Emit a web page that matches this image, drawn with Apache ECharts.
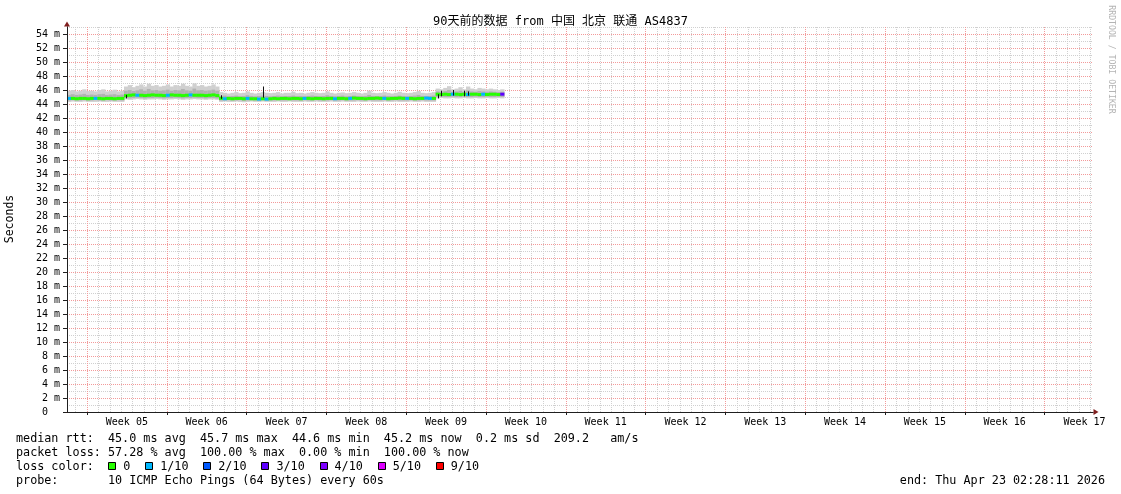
<!DOCTYPE html>
<html><head><meta charset="utf-8">
<script src="https://cdn.jsdelivr.net/npm/echarts@6/dist/echarts.min.js"></script>
<style>html,body{margin:0;padding:0;background:#fff}#c{width:1121px;height:494px}</style>
</head><body><div id="c"></div>
<script>
// ---------- text ----------
const chartTitle = '90天前的数据 from 中国 北京 联通 AS4837';
const yAxisTitle = 'Seconds';
const watermark = 'RRDTOOL / TOBI OETIKER';
const weekLabels = ['Week 05','Week 06','Week 07','Week 08','Week 09','Week 10','Week 11','Week 12','Week 13','Week 14','Week 15','Week 16','Week 17'];
const statLines = [
  'median rtt:  45.0 ms avg  45.7 ms max  44.6 ms min  45.2 ms now  0.2 ms sd  209.2   am/s',
  'packet loss: 57.28 % avg  100.00 % max  0.00 % min  100.00 % now'
];
const lossTitle = 'loss color:';
const lossLegendLabels = ['0','1/10','2/10','3/10','4/10','5/10','9/10'];
const lossLegendColors = ['#26ff00','#00b8ff','#0059ff','#5e00ff','#7e00ff','#dd00ff','#ff0000'];
const probeLine = 'probe:       10 ICMP Echo Pings (64 Bytes) every 60s';
const endLine = 'end: Thu Apr 23 02:28:11 2026';

// ---------- time frame (hours from left edge of plot) ----------
const TOTAL_HOURS = 2160;      // 90 days
const FIRST_WEEK_HOUR = 42;    // Monday 00:00 of Week 05
const STEP_HOURS = 8;          // one sample = 8 hours
const Y_MAX = 55;

// ---------- data (ms), one value per 8h sample ----------
const median = [
  44.80,44.80,44.75,44.80,44.80,44.75,44.80,44.80,44.80,44.75,44.80,44.80,44.75,44.80,44.80,
  45.20,45.25,45.30,45.25,45.25,45.20,45.25,45.30,45.25,45.25, 45.20,45.25,45.30,45.25,45.25,45.20,45.25,45.30,45.25,45.25, 45.25,45.20,45.25,45.30,45.20,
  44.80,44.75,44.80,44.75,44.80,44.80,44.75,44.80,44.75,44.75, 44.70,44.75,44.70,44.75,44.80,44.75,44.80,44.80,44.75,44.80,
  44.80,44.75,44.80,44.80,44.75,44.80,44.80,44.75,44.80,44.80, 44.75,44.80,44.80,44.75,44.80,44.85,44.80,44.80,44.75,44.80,
  44.80,44.85,44.80,44.80,44.75,44.80,44.80,44.85,44.80,44.80, 44.80,44.75,44.80,44.80,44.85,44.80,44.80,
  45.40,45.35,45.40,45.35,45.40,45.40,45.35,45.40,45.35,45.40, 45.40,45.35,45.40,45.35,45.40,45.40,45.35,45.40
];
const loss = [
  1,0,0,0,0,0,0,1,0,0,0,0,0,0,0,
  0,0,0,1,0,0,0,0,0,0, 0,1,0,0,0,0,0,1,0,0, 0,0,0,0,0,
  0,1,0,0,0,0,0,1,0,0, 1,0,1,0,0,0,0,0,0,0, 0,0,1,0,0,0,0,0,0,0, 1,0,0,0,1,0,0,0,0,0, 0,0,0,1,0,0,0,0,0,1, 0,0,0,0,1,1,0,
  0,0,0,0,1,0,0,0,1,0, 0,0,1,0,0,0,0,3
];
const smokeLo = [
  44.30,44.35,44.30,44.30,44.35,44.30,44.30,44.30,44.35,44.30,44.30,44.35,44.30,44.30,44.30,
  44.65,44.60,44.65,44.70,44.65,44.60,44.65,44.65,44.70,44.65, 44.60,44.65,44.65,44.70,44.65,44.60,44.65,44.65,44.70,44.65, 44.65,44.60,44.65,44.65,44.60,
  44.30,44.35,44.30,44.30,44.35,44.30,44.25,44.30,44.35,44.30, 44.30,44.35,44.30,44.30,44.30,44.35,44.30,44.30,44.35,44.30,
  44.30,44.30,44.35,44.30,44.30,44.35,44.30,44.30,44.30,44.35, 44.30,44.30,44.35,44.30,44.30,44.30,44.35,44.30,44.30,44.35,
  44.30,44.30,44.30,44.35,44.30,44.30,44.35,44.30,44.30,44.30, 44.35,44.30,44.30,44.35,44.30,44.30,44.30,
  44.80,44.85,44.80,44.80,44.85,44.80,44.80,44.85,44.80,44.80, 44.85,44.80,44.80,44.85,44.80,44.80,44.85,44.80
];
const smokeHi = [
  45.90,46.00,45.80,45.90,46.10,45.85,45.90,45.80,46.00,46.10,45.80,45.90,46.05,45.80,45.90,
  46.50,46.70,46.40,46.60,46.80,46.50,46.90,46.60,46.70,46.50, 46.60,46.80,46.50,46.70,46.60,46.90,46.60,46.50,46.95,46.60, 46.70,46.50,46.60,46.80,46.50,
  45.70,45.60,45.50,45.60,45.70,45.55,45.60,45.80,45.60,45.50, 45.60,45.70,45.60,45.55,45.60,45.70,45.50,45.60,45.60,45.75,
  45.55,45.60,45.50,45.60,45.70,45.60,45.55,45.60,45.80,45.60, 45.50,45.60,45.65,45.55,45.60,45.70,45.60,45.50,45.60,45.90,
  45.60,45.55,45.60,45.70,45.60,45.50,45.60,45.75,45.60,45.55, 45.60,45.70,45.85,45.60,45.55,45.60,45.70,
  46.20,46.10,46.30,46.55,46.10,46.20,46.40,46.10,46.50,46.20, 46.10,46.30,46.20,46.10,46.20,46.10,46.00,46.10
];
const coreLo = [
  44.50,44.55,44.50,44.50,44.55,44.50,44.50,44.55,44.50,44.50,44.55,44.50,44.50,44.55,44.50,
  44.85,44.80,44.85,44.90,44.85,44.80,44.85,44.85,44.90,44.85, 44.80,44.85,44.85,44.90,44.85,44.80,44.85,44.85,44.90,44.85, 44.85,44.80,44.85,44.85,44.80,
  44.50,44.50,44.55,44.50,44.50,44.55,44.45,44.50,44.55,44.50, 44.50,44.55,44.50,44.50,44.50,44.55,44.50,44.50,44.55,44.50,
  44.50,44.50,44.55,44.50,44.50,44.55,44.50,44.50,44.50,44.55, 44.50,44.50,44.55,44.50,44.50,44.50,44.55,44.50,44.50,44.55,
  44.50,44.50,44.50,44.55,44.50,44.50,44.55,44.50,44.50,44.50, 44.55,44.50,44.50,44.55,44.50,44.50,44.50,
  45.00,45.05,45.00,45.00,45.05,45.00,45.00,45.05,45.00,45.00, 45.05,45.00,45.00,45.05,45.00,45.00,45.05,45.00
];
const coreHi = [
  45.30,45.40,45.30,45.35,45.45,45.30,45.35,45.30,45.40,45.45,45.30,45.35,45.40,45.30,45.35,
  45.90,46.00,45.85,45.95,46.10,45.90,46.15,45.95,46.00,45.90, 45.95,46.05,45.90,46.00,45.95,46.15,45.95,45.90,46.20,45.95, 46.00,45.90,45.95,46.05,45.90,
  45.15,45.20,45.10,45.15,45.20,45.10,45.15,45.25,45.15,45.10, 45.15,45.20,45.15,45.10,45.15,45.20,45.10,45.15,45.15,45.20,
  45.10,45.15,45.10,45.15,45.20,45.15,45.10,45.15,45.25,45.15, 45.10,45.15,45.20,45.10,45.15,45.20,45.15,45.10,45.15,45.30,
  45.15,45.10,45.15,45.20,45.15,45.10,45.15,45.20,45.15,45.10, 45.15,45.20,45.30,45.15,45.10,45.15,45.20,
  45.80,45.75,45.85,46.00,45.75,45.80,45.90,45.75,45.95,45.80, 45.75,45.85,45.80,45.75,45.80,45.75,45.70,45.75
];
// dark marks: [sample, low ms, high ms]
const darkMarks = [[15,44.8,45.3],[40,44.75,45.25],[51,44.9,46.5],[97,44.8,45.4],[98,45.1,45.9],[101,45.2,46.0],[104,45.1,45.9],[105,45.2,45.8]];

// ---------- styles ----------
const MONO = '"DejaVu Sans Mono", "Noto Sans CJK SC", monospace';
const GRID_MINOR = '#d0d0d0';
const GRID_MAJOR = '#f39a9a';
const ARROW = '#801f1f';
const AXIS = '#1f1f1f';
const lossColorMap = {0:'#26ff00',1:'#00b8ff',2:'#0059ff',3:'#5e00ff',4:'#7e00ff',5:'#dd00ff',9:'#ff0000'};
function lossColor(l){ if (l >= 9) return lossColorMap[9]; if (l > 5) return lossColorMap[5]; return lossColorMap[l]; }

const hourCats = Array.from({length: TOTAL_HOURS + 1}, (_, i) => String(i));
const metreCats = Array.from({length: Y_MAX + 1}, (_, i) => String(i));
const isWeek = i => i >= FIRST_WEEK_HOUR && i < TOTAL_HOURS && (i - FIRST_WEEK_HOUR) % 168 === 0;
const isDay = i => i > 0 && i < TOTAL_HOURS && ((i - FIRST_WEEK_HOUR) % 24 + 24) % 24 === 0 && !isWeek(i);
const labelIdx = i => { const o = i - FIRST_WEEK_HOUR - 84; return (o >= 0 && o % 168 === 0) ? o / 168 : -1; };

const gridRect = {left: 67, right: 28, top: 27, bottom: 82, outerBoundsMode: 'none'};

const chart = echarts.init(document.getElementById('c'), null, {renderer: 'canvas'});

function smokeItem(params, api) {
  const i = api.value(0);
  const x0 = api.coord([i * STEP_HOURS, 0])[0];
  const x1 = api.coord([(i + 1) * STEP_HOURS, 0])[0];
  const yLo = api.coord([0, api.value(1)])[1], yHi = api.coord([0, api.value(2)])[1];
  const cLo = api.coord([0, api.value(3)])[1], cHi = api.coord([0, api.value(4)])[1];
  return {type: 'group', children: [
    {type: 'rect', shape: {x: x0, y: yHi, width: x1 - x0 + 0.5, height: yLo - yHi}, style: {fill: '#d0d0d0'}},
    {type: 'rect', shape: {x: x0, y: cHi, width: x1 - x0 + 0.5, height: cLo - cHi}, style: {fill: '#b2b2b2'}}
  ]};
}
function medianItem(params, api) {
  const i = api.value(0);
  const x0 = api.coord([i * STEP_HOURS, 0])[0];
  const x1 = api.coord([(i + 1) * STEP_HOURS, 0])[0];
  const y = api.coord([0, api.value(1)])[1];
  return {type: 'rect', shape: {x: x0, y: y - 1.5, width: x1 - x0 + 0.4, height: 3}, style: {fill: lossColor(api.value(2))}};
}
function darkItem(params, api) {
  const i = api.value(0);
  const x = Math.round(api.coord([(i + 0.5) * STEP_HOURS, 0])[0]) + 0.5;
  const yLo = api.coord([0, api.value(1)])[1], yHi = api.coord([0, api.value(2)])[1];
  return {type: 'line', shape: {x1: x, y1: yLo, x2: x, y2: yHi}, style: {stroke: '#111', lineWidth: 1}};
}

// legend graphics
const graphics = [];
const LEG_FONT = '11.75px ' + MONO;
const CHAR_W = 7.08;
graphics.push({type: 'text', x: 560.5, y: 21.5, style: {text: chartTitle, font: '12px ' + MONO, fill: '#000', align: 'center', verticalAlign: 'middle'}});
graphics.push({type: 'text', x: 10, y: 219, rotation: Math.PI / 2, style: {text: yAxisTitle, font: '11.5px ' + MONO, fill: '#000', align: 'center', verticalAlign: 'middle'}});
graphics.push({type: 'text', x: 1111, y: 59.5, rotation: -Math.PI / 2, style: {text: watermark, font: '8.2px ' + MONO, fill: '#b4b4b4', align: 'center', verticalAlign: 'middle'}});
statLines.forEach((t, k) => graphics.push({type: 'text', x: 16, y: 439 + 14 * k, style: {text: t, font: LEG_FONT, fill: '#000', verticalAlign: 'middle'}}));
graphics.push({type: 'text', x: 16, y: 467, style: {text: lossTitle, font: LEG_FONT, fill: '#000', verticalAlign: 'middle'}});
let lx = 108.3;
lossLegendLabels.forEach((lab, k) => {
  graphics.push({type: 'rect', shape: {x: Math.round(lx) + 0.5, y: 462.5, width: 7, height: 7}, style: {fill: lossLegendColors[k], stroke: '#000', lineWidth: 1}});
  graphics.push({type: 'text', x: lx + 15, y: 467, style: {text: lab, font: LEG_FONT, fill: '#000', verticalAlign: 'middle'}});
  lx += 15 + lab.length * CHAR_W + 14.8;
});
graphics.push({type: 'text', x: 16, y: 481, style: {text: probeLine, font: LEG_FONT, fill: '#000', verticalAlign: 'middle'}});
graphics.push({type: 'text', x: 1105, y: 481, style: {text: endLine, font: LEG_FONT, fill: '#000', align: 'right', verticalAlign: 'middle'}});

const hidden = {axisLine: {show: false}, axisTick: {show: false}, axisLabel: {show: false}, splitLine: {show: false}};

const option = {
  animation: false,
  backgroundColor: '#ffffff',
  grid: [Object.assign({}, gridRect), Object.assign({}, gridRect), Object.assign({}, gridRect), Object.assign({}, gridRect)],
  xAxis: [
    {type: 'category', gridIndex: 0, data: hourCats, boundaryGap: false,
     axisLine: {show: false}, axisTick: {show: false}, axisLabel: {show: false},
     splitLine: {show: true, interval: (i) => isDay(i), lineStyle: {color: GRID_MINOR, width: 1, type: [1, 1]}}},
    {type: 'category', gridIndex: 1, data: hourCats, boundaryGap: false,
     axisLine: {show: false},
     axisTick: {show: true, interval: (i) => isWeek(i), length: 3, lineStyle: {color: AXIS}},
     axisLabel: {show: true, interval: (i) => labelIdx(i) >= 0, hideOverlap: false, margin: 5,
       formatter: (v, i) => { const k = labelIdx(i); return k >= 0 ? weekLabels[k] : ''; },
       fontFamily: MONO, fontSize: 10, color: '#000'},
     splitLine: {show: true, interval: (i) => isWeek(i), lineStyle: {color: GRID_MAJOR, width: 1, type: [1, 1]}}},
    Object.assign({type: 'value', gridIndex: 2, min: 0, max: TOTAL_HOURS, z: 2}, hidden,
      {axisLine: {show: true, lineStyle: {color: AXIS, width: 1}}}),
    Object.assign({type: 'value', gridIndex: 3, min: 0, max: TOTAL_HOURS, z: 1}, hidden,
      {axisLine: {show: true, lineStyle: {color: ARROW, width: 1}, symbol: ['none', 'triangle'], symbolSize: [6, 5], symbolOffset: [0, 3]}})
  ],
  yAxis: [
    {type: 'category', gridIndex: 0, data: metreCats, boundaryGap: false,
     axisLine: {show: false}, axisTick: {show: false}, axisLabel: {show: false},
     splitLine: {show: true, interval: (i) => i % 2 === 1, lineStyle: {color: GRID_MINOR, width: 1, type: [1, 1]}}},
    {type: 'category', gridIndex: 1, data: metreCats, boundaryGap: false,
     axisLine: {show: false},
     axisTick: {show: true, interval: (i) => i % 2 === 0 && i < Y_MAX, length: 4, lineStyle: {color: AXIS}},
     axisLabel: {show: true, interval: (i) => i % 2 === 0 && i < Y_MAX, margin: 7, fontFamily: MONO, fontSize: 10, color: '#000',
       formatter: (v) => v === '0' ? '0  ' : (v + ' m')},
     splitLine: {show: true, interval: (i) => i % 2 === 0 && i > 0 && i < Y_MAX, lineStyle: {color: GRID_MAJOR, width: 1, type: [1, 1]}}},
    Object.assign({type: 'value', gridIndex: 2, min: 0, max: Y_MAX, z: 2}, hidden,
      {axisLine: {show: true, lineStyle: {color: AXIS, width: 1}}}),
    Object.assign({type: 'value', gridIndex: 3, min: 0, max: Y_MAX, z: 1}, hidden,
      {axisLine: {show: true, lineStyle: {color: ARROW, width: 1}, symbol: ['none', 'triangle'], symbolSize: [6, 5], symbolOffset: [0, 3]}})
  ],
  series: [
    {type: 'custom', xAxisIndex: 2, yAxisIndex: 2, clip: true, renderItem: smokeItem,
     encode: {x: 0, y: 2}, data: median.map((_, i) => [i, smokeLo[i], smokeHi[i], coreLo[i], coreHi[i]])},
    {type: 'custom', xAxisIndex: 2, yAxisIndex: 2, clip: true, renderItem: medianItem,
     encode: {x: 0, y: 1}, data: median.map((m, i) => [i, m, loss[i]])},
    {type: 'custom', xAxisIndex: 2, yAxisIndex: 2, clip: true, renderItem: darkItem,
     encode: {x: 0, y: 2}, data: darkMarks}
  ],
  graphic: graphics
};
chart.setOption(option);
</script>
</body></html>
